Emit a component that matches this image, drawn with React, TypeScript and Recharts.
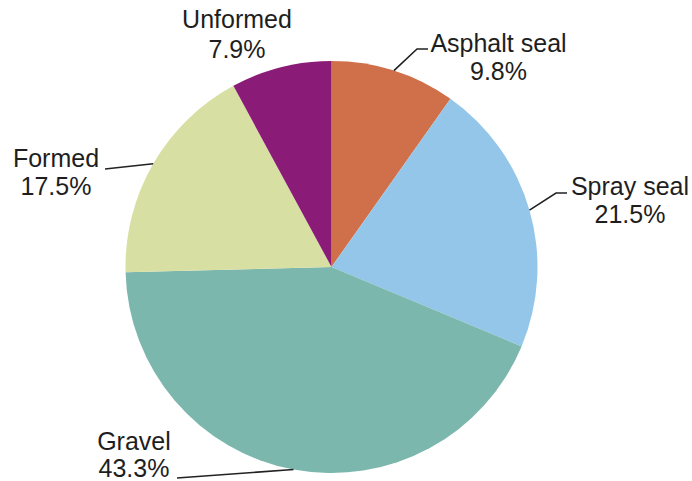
import React from "react";
import { PieChart, Pie, Cell } from "recharts";

const categories = ["Asphalt seal", "Spray seal", "Gravel", "Formed", "Unformed"];
const shares = [9.8, 21.5, 43.3, 17.5, 7.9];
const colors = ["#D0704A", "#94C6EA", "#7BB7AD", "#D8DFA2", "#8A1C78"];

// label layout relative to pie centre: text anchor x, two baselines, optional leader path points
const labelLayout: Record<string, { x: number; y1: number; y2: number; pts: number[][] | null }> = {
  "Asphalt seal": { x: 167, y1: -215, y2: -187, pts: [[85.5, -218], [96.5, -218]] },
  "Spray seal": { x: 298.5, y1: -72, y2: -44, pts: [[224.5, -74], [235.5, -74]] },
  Gravel: { x: -197.5, y1: 183, y2: 210, pts: [[-154.5, 211]] },
  Formed: { x: -275.5, y1: -100, y2: -72, pts: [[-226.5, -98]] },
  Unformed: { x: -94.5, y1: -239, y2: -209, pts: null },
};

const data = categories.map((name, i) => ({ name, value: shares[i] }));

const RAD = Math.PI / 180;

const renderLabel = (props: any) => {
  const { cx, cy, midAngle, outerRadius, name, value } = props;
  const L = labelLayout[name];
  if (!L) return null;
  const sx = cx + outerRadius * Math.cos(-midAngle * RAD);
  const sy = cy + outerRadius * Math.sin(-midAngle * RAD);
  let path = "";
  if (L.pts) {
    path = `M${sx},${sy}` + L.pts.map((p) => ` L${cx + p[0]},${cy + p[1]}`).join("");
  }
  return (
    <g>
      {L.pts && <path d={path} stroke="#222" strokeWidth={1.6} fill="none" />}
      <text
        x={cx + L.x}
        y={cy + L.y1}
        textAnchor="middle"
        fill="#1e1e1e"
        fontSize={25}
        fontFamily="'Liberation Sans', Arial, sans-serif"
      >
        {name}
      </text>
      <text
        x={cx + L.x}
        y={cy + L.y2}
        textAnchor="middle"
        fill="#1e1e1e"
        fontSize={25}
        fontFamily="'Liberation Sans', Arial, sans-serif"
      >
        {`${value.toFixed(1)}%`}
      </text>
    </g>
  );
};

export default function App() {
  return (
    <div style={{ position: "absolute", left: 0, top: 0, width: 692, height: 481, background: "#fff" }}>
      <PieChart width={692} height={481} margin={{ top: 0, right: 0, bottom: 0, left: 0 }}>
        <Pie
          data={data}
          dataKey="value"
          nameKey="name"
          cx={331.5}
          cy={267}
          outerRadius={206}
          startAngle={90}
          endAngle={-270}
          stroke="none"
          label={renderLabel}
          labelLine={false}
          isAnimationActive={false}
        >
          {data.map((d, i) => (
            <Cell key={d.name} fill={colors[i]} />
          ))}
        </Pie>
      </PieChart>
    </div>
  );
}
